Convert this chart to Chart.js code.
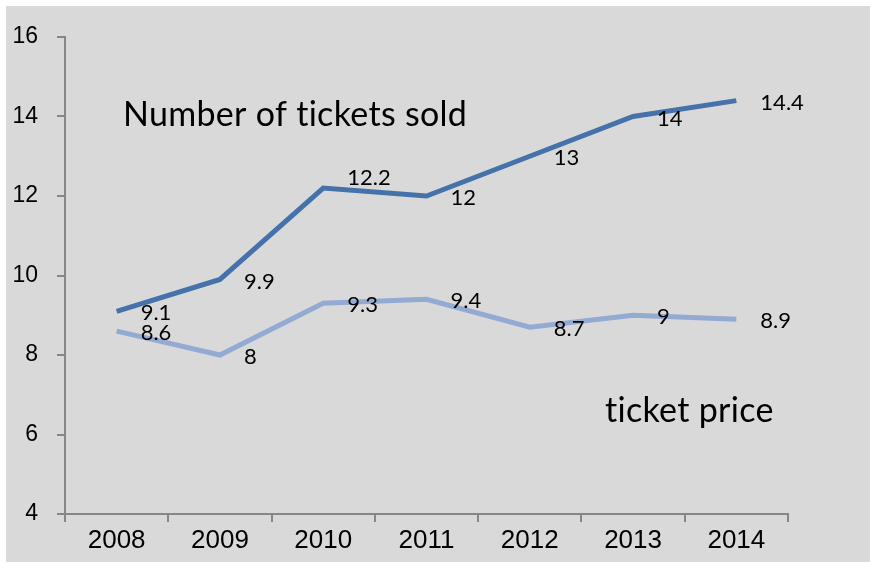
<!DOCTYPE html>
<html lang="en">

<head>
    <meta charset="UTF-8">
    <title>Tickets sold and ticket price</title>
    <script src="https://cdn.jsdelivr.net/npm/chart.js"></script>
    <style>
        body {
            margin: 0;
            padding: 0;
            background-color: #ffffff;
        }

        .chart-container {
            position: relative;
            width: 870px;
            height: 563px;
        }
    </style>
</head>

<body>
    <div class="chart-container">
        <canvas id="ticketChart"></canvas>
    </div>

    <script>
        // Chart data
        var years = ['2008', '2009', '2010', '2011', '2012', '2013', '2014'];
        var ticketsSold = [9.1, 9.9, 12.2, 12, 13, 14, 14.4];
        var ticketPrice = [8.6, 8, 9.3, 9.4, 8.7, 9, 8.9];
        var yMin = 4, yMax = 16, yStep = 2;

        var axisGray = '#868686';
        var labelFont = '22px Lato';

        // Grey panel behind the whole chart
        var panel = {
            id: 'panel',
            beforeDraw: function (chart) {
                var c = chart.ctx;
                c.save();
                c.fillStyle = '#d9d9d9';
                c.fillRect(6, 6, chart.width - 6, chart.height - 7);
                c.restore();
            }
        };

        // Value labels to the right of each point, plus the series captions
        var labels = {
            id: 'labels',
            afterDatasetsDraw: function (chart, args, opts) {
                var c = chart.ctx;
                c.save();
                c.fillStyle = '#000000';
                c.font = labelFont;
                c.textAlign = 'left';
                c.textBaseline = 'middle';
                chart.data.datasets.forEach(function (ds, i) {
                    var meta = chart.getDatasetMeta(i);
                    meta.data.forEach(function (pt, j) {
                        var dy = (opts.nudge[i] && opts.nudge[i][j]) || 0;
                        c.fillText(String(ds.data[j]), pt.x + 24, pt.y + 2 + dy);
                    });
                });

                // spacing keeps Lato from joining "ti"
                c.font = '34px Lato';
                c.letterSpacing = '0.3px';
                c.textBaseline = 'alphabetic';
                c.fillText('Number of tickets sold', 123, 126);
                c.fillText('ticket price', 605, 422);
                c.restore();
            }
        };

        var ctx = document.getElementById('ticketChart').getContext('2d');
        var ticketChart = new Chart(ctx, {
            type: 'line',
            data: {
                labels: years,
                datasets: [{
                    label: 'Number of tickets sold',
                    data: ticketsSold,
                    borderColor: '#4672ab',
                    borderWidth: 5,
                    pointRadius: 0,
                    tension: 0
                }, {
                    label: 'ticket price',
                    data: ticketPrice,
                    borderColor: '#93aad3',
                    borderWidth: 5,
                    pointRadius: 0,
                    tension: 0
                }]
            },
            options: {
                responsive: true,
                maintainAspectRatio: false,
                animation: false,
                layout: {
                    padding: { top: 37, right: 82, left: 0, bottom: 0 }
                },
                plugins: {
                    legend: { display: false },
                    tooltip: { enabled: false },
                    labels: {
                        nudge: [
                            [0, 0, -12, 0, 0, 0, 0],
                            [0, 0, 0, 0, 0, 0, 0]
                        ]
                    }
                },
                scales: {
                    x: {
                        offset: true,
                        grid: {
                            offset: true,
                            drawOnChartArea: false,
                            tickLength: 8,
                            color: axisGray,
                            lineWidth: 2
                        },
                        border: { color: axisGray, width: 2 },
                        ticks: {
                            color: '#000000',
                            font: { family: 'Liberation Sans', size: 26 },
                            padding: 3,
                            maxRotation: 0
                        },
                        afterFit: function (scale) {
                            scale.height = 49;
                        }
                    },
                    y: {
                        min: yMin,
                        max: yMax,
                        grid: {
                            drawOnChartArea: false,
                            tickLength: 8,
                            color: axisGray,
                            lineWidth: 2
                        },
                        border: { color: axisGray, width: 2 },
                        ticks: {
                            stepSize: yStep,
                            color: '#000000',
                            font: { family: 'Liberation Sans', size: 23 },
                            padding: 19
                        },
                        afterFit: function (scale) {
                            scale.width = 65;
                        }
                    }
                }
            },
            plugins: [panel, labels]
        });
    </script>
</body>

</html>
